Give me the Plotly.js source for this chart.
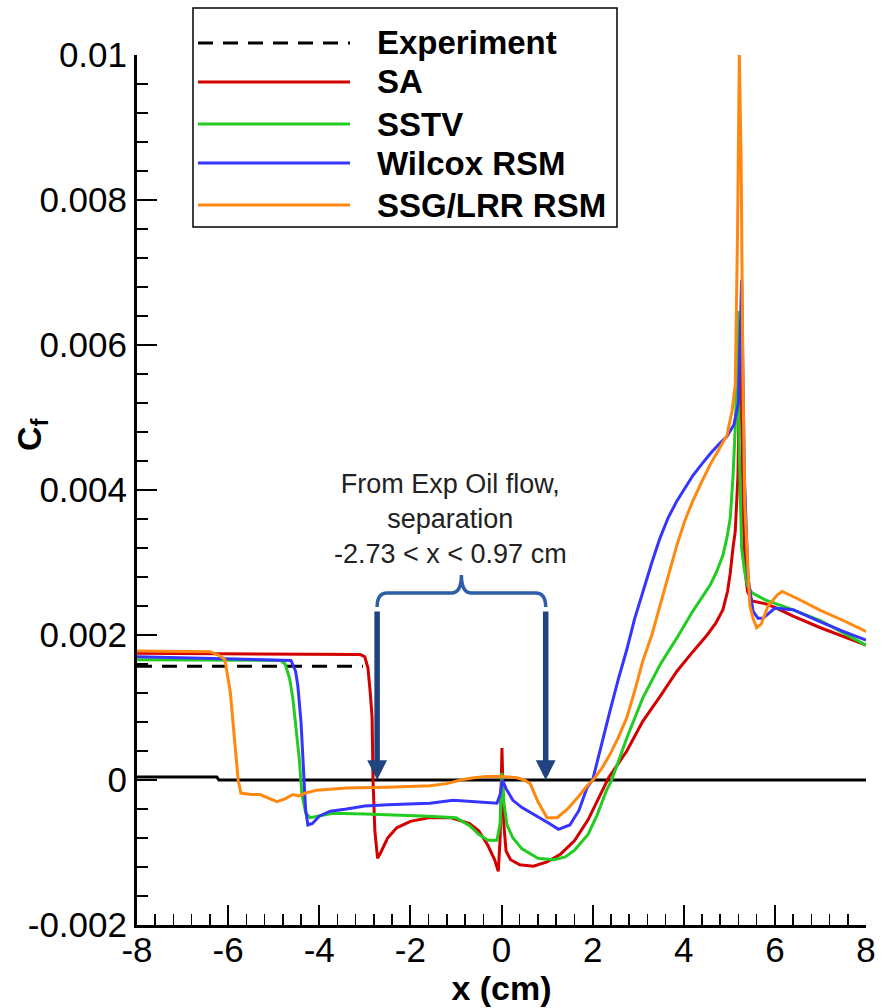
<!DOCTYPE html>
<html>
<head>
<meta charset="utf-8">
<script src="https://cdn.plot.ly/plotly-3.0.1.min.js"></script>
<style>
  html, body { margin: 0; padding: 0; background: #ffffff; }
  #chart { width: 889px; height: 1008px; }
</style>
</head>
<body>
<div id="chart"></div>
<script>
// Skin-friction coefficient along the wall, experiment vs. four turbulence models
const seriesNames = ['Experiment', 'SA', 'SSTV', 'Wilcox RSM', 'SSG/LRR RSM'];
const seriesColors = ['#000000', '#d40000', '#22cc22', '#3535ff', '#ff8811'];

const expX = [-8, -3.04];
const expCf = [0.00157, 0.00157];

const zeroX = [-8, -6.25, -6.2, 8];
const zeroCf = [0.00004, 0.00004, 0, 0];

const saX = [-8, -3.1, -3.0, -2.93, -2.88, -2.84, -2.82, -2.78, -2.72, -2.65, -2.5, -2.3, -2.0, -1.6, -1.1, -0.7, -0.5, -0.3, -0.15, -0.07, -0.03, 0.01, 0.05, 0.1, 0.2, 0.4, 0.7, 1.0, 1.3, 1.6, 1.9, 2.1, 2.35, 2.75, 3.1, 3.5, 3.85, 4.2, 4.5, 4.7, 4.86, 4.96, 5.02, 5.08, 5.13, 5.19, 5.24, 5.27, 5.3, 5.34, 5.4, 5.5, 5.8, 6.0, 6.4, 7.0, 7.5, 8.0];
const saCf = [0.00175, 0.00173, 0.00170, 0.00154, 0.00120, 0.00086, 0.0, -0.0007, -0.00108, -0.00100, -0.0008, -0.00066, -0.00057, -0.00052, -0.00052, -0.0006, -0.0007, -0.00090, -0.00110, -0.00126, -0.0008, 0.00044, -0.0006, -0.00098, -0.00110, -0.00117, -0.00119, -0.00113, -0.00102, -0.00084, -0.00055, -0.0003, 0.00003, 0.0004, 0.00081, 0.00117, 0.0015, 0.00177, 0.00199, 0.00216, 0.00235, 0.0026, 0.00285, 0.0032, 0.00343, 0.0042, 0.0063, 0.0052, 0.0038, 0.00292, 0.0026, 0.00247, 0.00243, 0.00238, 0.00226, 0.0021, 0.00198, 0.00186];

const sstvX = [-8, -4.85, -4.75, -4.65, -4.58, -4.5, -4.44, -4.38, -4.3, -4.2, -4.0, -3.7, -3.0, -2.4, -1.6, -1.0, -0.7, -0.5, -0.3, -0.1, -0.03, 0.01, 0.05, 0.12, 0.25, 0.45, 0.8, 1.15, 1.4, 1.6, 1.9, 2.1, 2.3, 2.42, 2.75, 3.1, 3.48, 3.85, 4.2, 4.58, 4.72, 4.86, 4.95, 5.02, 5.08, 5.14, 5.18, 5.22, 5.27, 5.33, 5.4, 5.5, 5.8, 6.3, 7.0, 7.5, 8.0];
const sstvCf = [0.00166, 0.00165, 0.0016, 0.0014, 0.00113, 0.0007, 0.0003, -0.0002, -0.00045, -0.00052, -0.0005, -0.00046, -0.00047, -0.00048, -0.0005, -0.00052, -0.00063, -0.00075, -0.00083, -0.00083, -0.0006, 0.0001, -0.0003, -0.00062, -0.0008, -0.00095, -0.00108, -0.00110, -0.00106, -0.00097, -0.00075, -0.00048, -0.00015, 0.0, 0.00058, 0.00113, 0.00159, 0.00196, 0.00233, 0.00269, 0.00287, 0.0031, 0.00335, 0.00361, 0.00417, 0.0050, 0.00647, 0.0045, 0.0032, 0.0029, 0.00268, 0.00258, 0.00248, 0.00237, 0.0022, 0.00203, 0.00186];

const wilcoxX = [-8, -4.62, -4.52, -4.47, -4.4, -4.35, -4.3, -4.25, -4.15, -4.0, -3.76, -3.4, -3.0, -2.5, -2.0, -1.57, -1.06, -0.6, -0.25, -0.1, -0.03, 0.02, 0.1, 0.25, 0.45, 0.85, 1.05, 1.25, 1.5, 1.7, 1.88, 2.0, 2.2, 2.38, 2.56, 2.75, 2.92, 3.1, 3.3, 3.48, 3.66, 3.85, 4.2, 4.4, 4.58, 4.77, 4.95, 5.1, 5.2, 5.27, 5.3, 5.33, 5.37, 5.41, 5.52, 5.63, 5.74, 6.0, 6.4, 7.0, 7.5, 8.0];
const wilcoxCf = [0.0017, 0.00165, 0.0015, 0.0013, 0.0008, 0.0002, -0.0004, -0.00062, -0.0006, -0.0005, -0.00043, -0.0004, -0.00036, -0.00034, -0.00033, -0.00032, -0.00028, -0.0003, -0.00032, -0.00032, -0.0002, 0.0, -0.00012, -0.00028, -0.00038, -0.00052, -0.0006, -0.00068, -0.00062, -0.00042, -0.0001, 0.0, 0.00052, 0.00095, 0.00138, 0.0018, 0.00222, 0.0026, 0.003, 0.00334, 0.00362, 0.00385, 0.0042, 0.00436, 0.0045, 0.00463, 0.00474, 0.0049, 0.0052, 0.0069, 0.0055, 0.0042, 0.0035, 0.00279, 0.00233, 0.00223, 0.00223, 0.00237, 0.00235, 0.00218, 0.00205, 0.00193];

const ssgX = [-8, -6.4, -6.2, -6.07, -5.95, -5.85, -5.78, -5.72, -5.5, -5.3, -5.1, -4.93, -4.75, -4.58, -4.45, -4.3, -4.05, -3.4, -2.5, -1.57, -1.2, -0.9, -0.6, -0.32, 0.0, 0.34, 0.5, 0.63, 0.8, 1.0, 1.22, 1.45, 1.7, 1.88, 2.01, 2.2, 2.38, 2.56, 2.75, 2.92, 3.1, 3.3, 3.48, 3.66, 3.85, 4.02, 4.2, 4.4, 4.58, 4.77, 4.95, 5.06, 5.13, 5.18, 5.22, 5.26, 5.3, 5.34, 5.39, 5.45, 5.52, 5.6, 5.7, 5.85, 6.05, 6.16, 6.5, 7.0, 7.5, 8.0];
const ssgCf = [0.00178, 0.00177, 0.00172, 0.00166, 0.0012, 0.0005, 0.0, -0.00018, -0.0002, -0.0002, -0.00026, -0.0003, -0.00026, -0.0002, -0.00022, -0.00018, -0.00014, -0.00011, -0.0001, -0.00008, -0.00005, 0.0, 0.00003, 0.00005, 0.00005, 0.00003, 0.0, -0.00005, -0.0003, -0.00052, -0.00052, -0.0004, -0.00022, -0.00008, 0.0, 0.00016, 0.00035, 0.00058, 0.00086, 0.00122, 0.00164, 0.002, 0.00241, 0.00282, 0.00324, 0.00357, 0.00385, 0.00412, 0.00435, 0.00456, 0.00476, 0.00509, 0.00545, 0.0075, 0.01, 0.0085, 0.0055, 0.0038, 0.00306, 0.00241, 0.00223, 0.0021, 0.00215, 0.0024, 0.00255, 0.0026, 0.0025, 0.00234, 0.0022, 0.00205];

// Separation extent from oil-flow visualisation (cm)
const sepStart = -2.73;
const sepEnd = 0.97;
const sepLabel = 'From Exp Oil flow,<br>separation<br>-2.73 &lt; x &lt; 0.97 cm';

const xTickVals = [-8, -6, -4, -2, 0, 2, 4, 6, 8];
const xTickText = ['-8', '-6', '-4', '-2', '0', '2', '4', '6', '8'];
const yTickVals = [-0.002, 0, 0.002, 0.004, 0.006, 0.008, 0.01];
const yTickText = ['-0.002', '0', '0.002', '0.004', '0.006', '0.008', '0.01'];

// Plot-area geometry in pixels (used for the hand-drawn legend box)
const W = 889, H = 1008;
const M = { l: 137, r: 23, t: 55, b: 83 };
const px = v => (v - M.l) / (W - M.l - M.r);
const py = v => (H - M.b - v) / (H - M.t - M.b);

const FONT = 'Liberation Sans, Arial, sans-serif';
const lineW = 3;
const curves = [
  { x: zeroX, y: zeroCf, color: '#000000', dash: 'solid' },
  { x: expX, y: expCf, color: seriesColors[0], dash: '15px,10px' },
  { x: saX, y: saCf, color: seriesColors[1], dash: 'solid' },
  { x: sstvX, y: sstvCf, color: seriesColors[2], dash: 'solid' },
  { x: wilcoxX, y: wilcoxCf, color: seriesColors[3], dash: 'solid' },
  { x: ssgX, y: ssgCf, color: seriesColors[4], dash: 'solid' }
];
const traces = curves.map(c => ({
  type: 'scatter', mode: 'lines', x: c.x, y: c.y,
  line: { color: c.color, width: lineW, dash: c.dash },
  hoverinfo: 'skip', showlegend: false, cliponaxis: true
}));

// Legend: framed box with long line samples and bold labels
const legendRows = [43, 82, 124, 163, 205];
const shapes = [
  { type: 'rect', xref: 'paper', yref: 'paper', x0: px(193), x1: px(617), y0: py(227), y1: py(8),
    line: { color: '#000000', width: 1.5 }, fillcolor: '#ffffff', layer: 'above' }
];
const annotations = [];
seriesNames.forEach((name, i) => {
  shapes.push({ type: 'line', xref: 'paper', yref: 'paper', x0: px(198), x1: px(350), y0: py(legendRows[i]), y1: py(legendRows[i]),
    line: { color: seriesColors[i], width: lineW, dash: i === 0 ? '15px,10px' : 'solid' }, layer: 'above' });
  annotations.push({ xref: 'paper', yref: 'paper', x: px(375), y: py(legendRows[i]), xanchor: 'left', yanchor: 'middle',
    text: '<b>' + name + '</b>', showarrow: false, font: { family: FONT, size: 33, color: '#000000' } });
});

// Curly bracket above the separation region
const yB = py(607), yT = py(593), yN = py(575);
const dx = 0.22;
const xm = (sepStart + sepEnd) / 2;
const bracket = `M ${sepStart},${yB} Q ${sepStart},${yT} ${sepStart + dx},${yT} L ${xm - dx},${yT} Q ${xm},${yT} ${xm},${yN} Q ${xm},${yT} ${xm + dx},${yT} L ${sepEnd - dx},${yT} Q ${sepEnd},${yT} ${sepEnd},${yB}`;
shapes.push({ type: 'path', xref: 'x', yref: 'paper', path: bracket, line: { color: '#2f5ea8', width: 3.5 } });

// Arrows down to the wall at the separation and reattachment points
[sepStart, sepEnd].forEach(xv => {
  annotations.push({ x: xv, y: 0, xref: 'x', yref: 'y', ax: 0, ay: -170, axref: 'pixel', ayref: 'pixel',
    showarrow: true, arrowhead: 2, arrowsize: 0.72, arrowwidth: 5.5, arrowcolor: '#1f4480', standoff: 0, text: '' });
});
annotations.push({ xref: 'paper', yref: 'paper', x: px(450), y: py(519), xanchor: 'center', yanchor: 'middle',
  text: sepLabel, showarrow: false, align: 'center',
  font: { family: FONT, size: 27, color: '#222222' } });

// y-axis title
annotations.push({ xref: 'paper', yref: 'paper', x: px(31), y: py(435), xanchor: 'center', yanchor: 'middle',
  text: '<b>C<sub>f</sub></b>', textangle: -90, showarrow: false,
  font: { family: FONT, size: 34, color: '#000000' } });

const tickFont = { family: FONT, size: 35, color: '#000000' };

const layout = {
  width: W, height: H,
  margin: M,
  paper_bgcolor: '#ffffff', plot_bgcolor: '#ffffff',
  showlegend: false,
  xaxis: {
    range: [-8, 8], tickmode: 'array', tickvals: xTickVals, ticktext: xTickText,
    ticks: 'inside', ticklen: 20, tickwidth: 2, tickcolor: '#000000',
    minor: { tickmode: 'linear', tick0: -8, dtick: 0.4, ticks: 'inside', ticklen: 11, tickwidth: 1.5, tickcolor: '#000000' },
    showline: true, linecolor: '#000000', linewidth: 3, mirror: false,
    showgrid: false, zeroline: false, tickfont: tickFont, ticklabelstandoff: -8,
    title: { text: '<b>x (cm)</b>', font: { family: FONT, size: 34, color: '#000000' }, standoff: 6 }
  },
  yaxis: {
    range: [-0.002, 0.01], tickmode: 'array', tickvals: yTickVals, ticktext: yTickText,
    ticks: 'inside', ticklen: 20, tickwidth: 2, tickcolor: '#000000',
    minor: { tickmode: 'linear', tick0: -0.002, dtick: 0.0004, ticks: 'inside', ticklen: 11, tickwidth: 1.5, tickcolor: '#000000' },
    showline: true, linecolor: '#000000', linewidth: 3, mirror: false,
    showgrid: false, zeroline: false, tickfont: tickFont, automargin: false
  },
  shapes: shapes,
  annotations: annotations
};

Plotly.newPlot('chart', traces, layout, { staticPlot: true, displayModeBar: false });
</script>
</body>
</html>
